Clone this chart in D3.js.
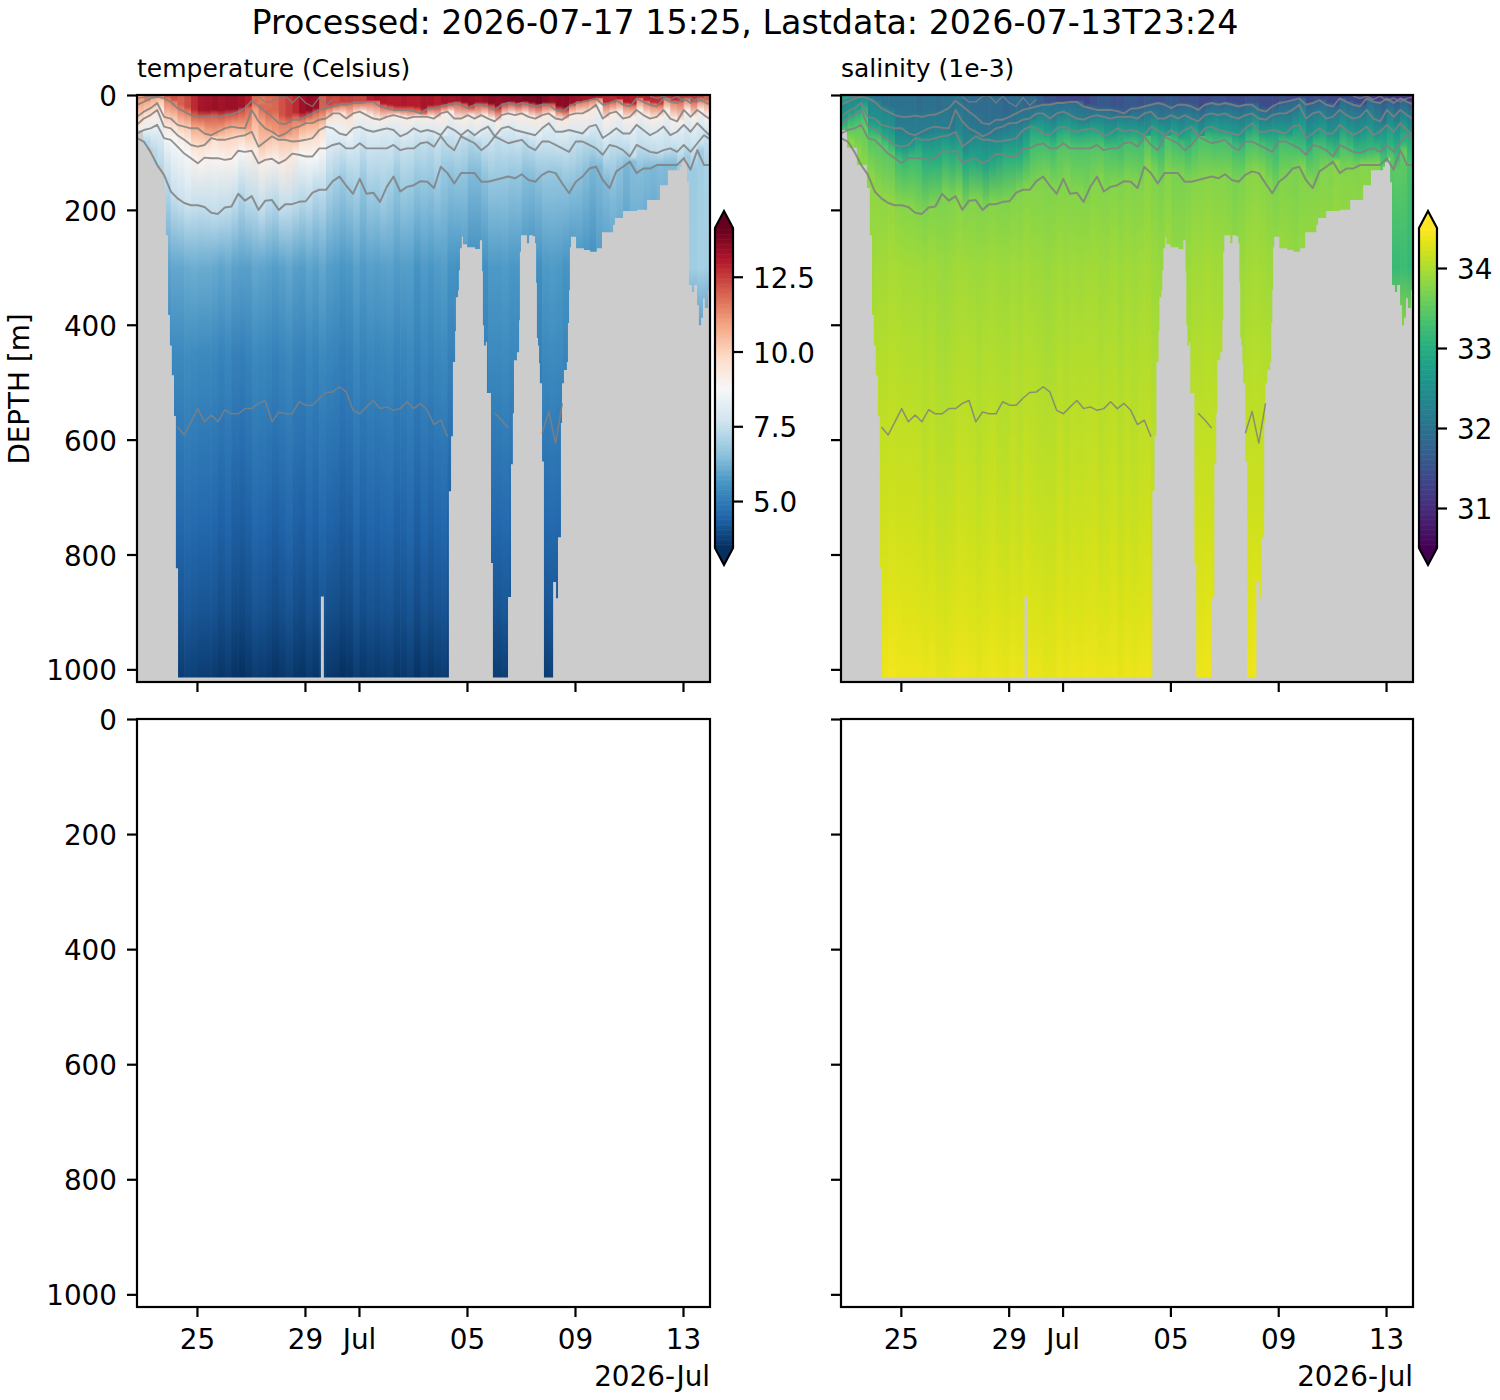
<!DOCTYPE html>
<html>
<head>
<meta charset="utf-8">
<script src="https://cdn.jsdelivr.net/npm/d3@7"></script>
<style>
  html, body { margin: 0; padding: 0; background: #fff; }
  text { font-family: "DejaVu Sans", sans-serif; fill: #000; }
</style>
</head>
<body>
<svg id="chart" width="1500" height="1400"></svg>
<script>
const titleText = 'Processed: 2026-07-17 15:25, Lastdata: 2026-07-13T23:24';
const variableNames = ['temperature (Celsius)', 'salinity (1e-3)'];
const depthTicks = [0, 200, 400, 600, 800, 1000];
const dateTicks = ['2026-06-25', '2026-06-29', '2026-07-01', '2026-07-05', '2026-07-09', '2026-07-13'];
const dateTickLabels = ['25', '29', 'Jul', '05', '09', '13'];
const tempBarTicks = [5, 7.5, 10, 12.5];
const salBarTicks = [31, 32, 33, 34];

// contour depths [m], one value per 6 h profile
const line1 = [6,4,2,1,null,null,null,null,null,null,null,null,null,null,null,null,null,null,3,12,12,2,1,14,2,14,20,4,18,8,
  null,null,null,null,null,null,null,null,null,null,null,null,null,null,null,null,null,null,null,null,null,null,null,null,null,null,null,null,null,null,
  null,null,null,null,null,null,null,null,null,null,null,null,null,null,null,null,2,6,2,8,2,10,5,12,6,3];
const line2 = [17,12,6,3,6,12,23,29,35,38,38,36,38,35,34,29,23,10,19,29,38,49,51,43,43,38,32,26,23,20,
  17,17,14,14,12,12,20,23,26,26,26,28,32,24,23,20,17,14,17,23,17,17,20,26,17,14,17,14,17,20,
  17,17,26,29,20,14,12,9,6,17,14,9,17,20,6,12,17,20,6,12,14,6,14,6,12,17];
const line3 = [38,29,23,14,38,41,52,55,58,58,67,70,64,58,55,57,58,26,46,58,64,72,67,58,55,49,49,43,41,32,
  32,41,32,29,35,41,43,38,35,38,41,38,38,38,41,32,29,41,41,35,41,35,41,46,35,32,35,32,38,41,
  35,32,41,43,35,32,32,26,17,41,32,29,41,38,26,35,41,38,26,41,46,26,38,26,35,43];
const line4 = [52,41,35,26,55,58,70,78,87,90,87,75,78,78,75,72,70,64,90,81,72,78,78,81,80,78,75,61,55,58,
  67,70,58,55,61,64,61,58,61,72,67,58,64,61,64,70,55,61,70,61,70,61,55,72,58,55,61,64,67,70,
  58,49,64,64,61,64,67,55,52,75,67,58,67,67,52,61,70,64,55,70,64,52,64,49,61,72];
const line5 = [67,61,58,52,75,78,90,102,110,119,109,110,110,113,111,97,99,97,119,113,111,119,113,102,104,107,107,93,93,87,
  84,93,93,84,93,93,93,93,87,96,93,93,84,82,90,72,87,96,72,78,84,96,87,72,78,84,81,78,90,96,
  81,81,87,93,99,81,81,87,93,104,87,90,96,107,87,93,99,101,96,93,99,87,99,84,70,78];
const line6 = [75,81,99,122,139,168,180,188,192,192,195,205,207,196,194,172,184,176,200,184,183,200,190,190,186,185,170,165,165,150,
  142,158,172,146,172,170,186,160,142,168,160,157,150,151,162,125,136,154,136,136,136,151,151,148,145,142,145,138,148,151,
  139,133,136,154,171,151,142,128,125,148,162,133,125,116,136,128,128,122,122,122,122,110,130,96,122,122];
const line7 = [null,null,null,null,null,null,578,592,569,546,569,557,569,548,555,555,546,546,537,532,569,552,555,555,534,540,540,528,518,517,
  508,517,549,555,543,532,546,543,549,546,534,546,537,549,574,566,595,null,null,null,null,null,null,554,566,580,null,null,null,null,
  589,551,606,537,null,null,null,null,null,null,null,null,null,null,null,null,null,null,null,null,null,null,null,null,null,null];

// sea floor / deepest sample: days from 1 July and depth [m]
const bottomDays = [-8.22,-8.00,-7.63,-7.26,-7.15,-7.07,-7.00,-6.93,-6.85,-6.78,-6.70,-1.41,-1.30,3.33,3.41,3.48,3.56,3.59,3.67,3.70,3.74,3.81,3.85,4.00,4.30,4.48,4.56,4.59,4.63,4.70,4.74,4.89,4.96,5.52,5.63,5.70,5.74,5.85,5.93,5.96,6.00,6.22,6.30,6.44,6.52,6.56,6.59,6.63,6.67,6.70,6.78,6.85,7.19,7.30,7.37,7.48,7.52,7.59,7.70,7.74,7.78,7.81,7.85,8.00,8.04,8.33,8.56,8.81,9.00,9.41,9.48,9.78,10.30,10.67,11.15,11.44,11.89,11.96,12.07,12.15,12.22,12.33,12.41,12.52,12.59,12.67,12.74,12.81,12.93,13.04];
const bottomDepths = [61,92,122,162,244,383,436,488,559,824,1014,873,1014,690,594,465,411,352,340,305,267,247,260,265,268,253,307,401,436,430,519,815,1014,874,643,554,462,448,392,273,244,258,244,246,258,327,423,436,467,502,638,1014,848,876,770,571,502,479,465,397,340,265,247,247,267,270,273,267,239,226,214,202,200,183,157,131,125,117,110,152,331,343,331,366,401,388,354,371,340,340];

// temperature at the surface, one value per profile
const tempSurface = [11,11.5,11.5,12,12,12.2,12,12.3,12.8,13.2,
  13.3,13.4,13.3,13.4,13.4,13.3,13,11.8,11.6,11.8,
  11.9,12.2,12.5,12.8,13.3,13.5,13.4,12,12.4,12.3,
  12.5,12.5,12.4,12.4,13,13.2,13.1,13,13,13.1,
  13,13,13.2,13.2,13,13.3,13.2,13.3,13.5,13.4,
  13.3,13.4,13.6,13.5,13.6,13.7,13.7,13.8,13.8,13.9,
  13.7,13.5,13.6,13.6,13.4,13.3,13.2,13.2,13,12.9,
  12.8,13,13.1,13,12.8,12.9,12.8,12.7,12.6,12.8,
  12.6,12.5,12.6,12.4,12,11.6];
// temperature along the contours, one value per day
const tempLine2 = [10.8,11.6,12,12.1,11.9,11.5,11.8,11.6,11.7,11.8,11.8,12,12,12.2,12.2,12,11.5,11.6,11.6,11.5,11.6,11.2];
const tempLine3 = [10,10.2,10.8,10.8,11,11.1,10.8,9.6,9.2,9.2,9.2,9.2,9.2,9.2,9.3,9.4,9.3,9.2,9.2,9.2,9.2,9.1];
const tempLine4 = [9.3,9.4,9.7,9.9,10.2,10.3,9.7,8.4,8.1,8,8,8,8,8,8.1,8.1,8,8,8,8,8,7.9];
const tempLine5 = [8.3,8.6,8.9,9,9.1,9.2,8.8,7.9,7.6,7.5,7.4,7.4,7.4,7.4,7.5,7.5,7.4,7.4,7.4,7.4,7.5,7.5];
const tempLine6 = [7.3,7.5,7.4,7.4,7.4,7.4,7.3,7,6.8,6.8,6.7,6.7,6.6,6.6,6.6,6.6,6.5,6.5,6.4,6.4,6.8,7];
const temp300 = [5.9,5.9,6,6,5.9,5.9,5.9,5.8,5.8,5.8,5.7,5.7,5.6,5.6,5.6,5.6,5.6,5.8,5.8,5.8,6.9,6.9];
// fixed depths below 300 m
const deepDepths = [450, 600, 750, 900, 1022];
const tempDeep = [5.25, 4.85, 4.45, 4.05, 3.55];
const salDeep = [34.02, 34.1, 34.18, 34.28, 34.38];

const salSurface = [32.7,32.6,32.4,32.2,32.1,32,32,32,32,32,
  32,31.9,32,32,31.9,32,32,32.1,31.9,31.9,
  31.9,31.9,31.9,31.9,31.8,31.9,31.9,31.8,31.9,31.7,
  31.5,31.5,31.4,31.4,31.3,31.3,31.3,31.5,31.6,31.6,
  31.5,31.5,31.6,31.6,31.5,31.6,31.5,31.5,31.6,31.6,
  31.5,31.5,31.5,31.4,31.4,31.5,31.5,31.4,31.4,31.4,
  31.5,31.5,31.4,31.4,31.4,31.5,31.4,31.4,31.5,31.4,
  31.5,31.4,31.4,31.4,31.3,31.4,31.4,31.4,31.3,31.2,
  31.3,31.1,31.2,31.1,31,31.2];
const salLine2 = [32.4,32.3,32.1,32.1,32,32,32,32,31.9,31.9,31.8,31.8,31.8,31.8,31.8,31.9,31.8,31.8,31.8,31.8,31.7,31.6];
const salLine3 = [32.7,32.5,32.2,32.2,32.1,32.1,32.1,32.2,32.2,32.2,32.2,32.1,32.2,32.2,32.2,32.2,32.1,32.2,32.2,32.2,32.1,32.1];
const salLine4 = [33.1,32.9,32.6,32.5,32.4,32.4,32.5,32.8,32.8,32.8,32.7,32.7,32.7,32.7,32.7,32.7,32.7,32.7,32.6,32.6,32.6,32.5];
const salLine5 = [33.5,33.4,33.2,33,32.9,32.8,33,33.3,33.4,33.4,33.3,33.3,33.3,33.3,33.3,33.3,33.3,33.3,33.3,33.2,33.1,32.9];
const salLine6 = [33.8,33.8,33.75,33.75,33.75,33.75,33.75,33.75,33.75,33.75,33.75,33.75,33.75,33.75,33.75,33.75,33.75,33.75,33.75,33.75,33.5,33.3];
const sal300 = [33.92,33.92,33.92,33.92,33.92,33.92,33.92,33.92,33.92,33.92,33.92,33.92,33.92,33.92,33.92,33.92,33.92,33.92,33.92,33.92,33.2,33.15];

// how much lighter or darker each profile looks below the thermocline
const profileStreak = [0,0,0,0,0,.1,.1,.2,.15,.1,
  .1,.05,-.05,.05,-.1,-.15,-.05,.1,.05,0,
  -.1,0,.1,-.05,-.1,.05,-.05,.1,0,-.05,
  -.15,-.1,.1,-.05,.05,0,.05,.1,-.05,0,
  .1,-.1,.05,-.05,.05,.1,-.1,-.15,.05,-.2,
  -.2,-.1,.1,.1,.15,.05,.05,-.1,-.2,-.1,
  .1,.15,.1,0,-.1,0,-.1,-.2,-.1,-.05,
  0,0,-.1,.1,.05,0,-.05,.05,0,0,
  0,0,0,.1,.05,0];

const svg = d3.select('#chart');
const defs = svg.append('defs');

const startTime = new Date(Date.UTC(2026, 5, 22, 18, 43));
const endTime = new Date(Date.UTC(2026, 6, 14, 0, 0));
const july1 = Date.UTC(2026, 6, 1);
const DAY_MS = 86400000;
const profileTimes = d3.range(86).map(i => d3.utcHour.offset(startTime, i * 6));
const tickDates = dateTicks.map(d => new Date(d + 'T00:00:00Z'));
const bottomTimes = bottomDays.map(d => new Date(july1 + d * DAY_MS));

const colLefts = [137, 841];
const colRights = [710, 1413];
const rowTops = [95, 719];
const rowBottoms = [682, 1307];
const MAX_DEPTH = 1022;

const tempColor = d3.scaleSequential(d3.piecewise(d3.interpolateRgb, d3.schemeRdBu[11].slice().reverse()))
  .domain([3.43, 14.13]);
const salColor = d3.scaleSequential(d3.interpolateViridis).domain([30.5, 34.5]);

const contourLines = [line1, line2, line3, line4, line5, line6, line7];
const contourWidths = [1.3, 1.9, 1.9, 1.9, 1.9, 2, 1.5];

const variables = [
  { surface: tempSurface, lines: [tempLine2, tempLine3, tempLine4, tempLine5, tempLine6], d300: temp300, deep: tempDeep, color: tempColor, gain: 1 },
  { surface: salSurface, lines: [salLine2, salLine3, salLine4, salLine5, salLine6], d300: sal300, deep: salDeep, color: salColor, gain: 0.25 }
];

function profileStops(v, i) {
  const day = Math.min(Math.floor(i / 4), 21);
  const streak = profileStreak[i] * v.gain;
  // the mixed layer keeps its surface value most of the way down to the first contour
  const stops = [[0, v.surface[i]], [line2[i] * 0.7, v.surface[i]]];
  [line2, line3, line4, line5, line6].forEach((line, k) => {
    const extra = k >= 3 ? streak : 0;
    stops.push([line[i], v.lines[k][day] + extra]);
  });
  stops.push([300, v.d300[day] + streak]);
  deepDepths.forEach((d, k) => stops.push([d, v.deep[k] + streak]));
  return stops;
}

function styleAxis(g) {
  g.select('.domain').remove();
  g.selectAll('.tick line').attr('stroke', '#000').attr('stroke-width', 2.2);
  g.selectAll('.tick text').attr('font-size', 27.8).attr('font-family', '"DejaVu Sans", sans-serif');
}

function drawPanel(col, row) {
  const x = d3.scaleUtc().domain([startTime, endTime]).range([colLefts[col], colRights[col]]);
  const y = d3.scaleLinear().domain([0, MAX_DEPTH]).range([rowTops[row], rowBottoms[row]]);
  const g = svg.append('g');
  const w = colRights[col] - colLefts[col];
  const h = rowBottoms[row] - rowTops[row];

  if (row === 0) {
    const clipId = `clip-${col}`;
    defs.append('clipPath').attr('id', clipId).append('rect')
      .attr('x', colLefts[col]).attr('y', rowTops[row]).attr('width', w).attr('height', h);
    const plot = g.append('g').attr('clip-path', `url(#${clipId})`);
    plot.append('rect').attr('x', colLefts[col]).attr('y', rowTops[row])
      .attr('width', w).attr('height', h).attr('fill', '#cccccc');

    const v = variables[col];
    profileTimes.slice(0, 85).forEach((t, i) => {
      const gradId = `grad-${col}-${i}`;
      const grad = defs.append('linearGradient').attr('id', gradId)
        .attr('gradientUnits', 'userSpaceOnUse')
        .attr('x1', 0).attr('x2', 0).attr('y1', y(0)).attr('y2', y(MAX_DEPTH));
      let last = 0;
      profileStops(v, i).forEach(([depth, value]) => {
        last = Math.max(last, depth);
        grad.append('stop').attr('offset', last / MAX_DEPTH).attr('stop-color', v.color(value));
      });
      const left = x(t);
      const right = i < 84 ? x(profileTimes[i + 1]) : x(endTime);
      plot.append('rect').attr('x', left).attr('y', y(0))
        .attr('width', right - left + 0.6).attr('height', y(MAX_DEPTH) - y(0))
        .attr('fill', `url(#${gradId})`);
    });

    const floorArea = d3.area()
      .x((d, i) => x(bottomTimes[i]))
      .y0(d => y(d))
      .y1(y(MAX_DEPTH))
      .curve(d3.curveStepAfter);
    plot.append('path').datum(bottomDepths).attr('d', floorArea).attr('fill', '#cccccc');

    const contour = d3.line()
      .defined(d => d !== null)
      .x((d, i) => x(profileTimes[i]))
      .y(d => y(d));
    contourLines.forEach((line, k) => {
      plot.append('path').datum(line).attr('d', contour)
        .attr('fill', 'none').attr('stroke', '#808080')
        .attr('stroke-opacity', 0.85).attr('stroke-width', contourWidths[k])
        .attr('stroke-linejoin', 'round');
    });
  }

  const xAxis = d3.axisBottom(x).tickValues(tickDates).tickSize(10).tickPadding(12)
    .tickFormat((d, i) => row === 1 ? dateTickLabels[i] : '');
  g.append('g').attr('transform', `translate(0,${rowBottoms[row]})`).call(xAxis).call(styleAxis);

  const yAxis = d3.axisLeft(y).tickValues(depthTicks).tickSize(10).tickPadding(10)
    .tickFormat(d => col === 0 ? d : '');
  g.append('g').attr('transform', `translate(${colLefts[col]},0)`).call(yAxis).call(styleAxis)
    .selectAll('.tick text').attr('dy', '0.38em');

  g.append('rect').attr('x', colLefts[col]).attr('y', rowTops[row]).attr('width', w).attr('height', h)
    .attr('fill', 'none').attr('stroke', '#000').attr('stroke-width', 2.2);
}

function drawColorbar(left, color, ticks, fmt) {
  const barW = 18, top = 228, bottom = 548, tipTop = 211, tipBottom = 565;
  const [lo, hi] = color.domain();
  const scale = d3.scaleLinear().domain([lo, hi]).range([bottom, top]);
  const g = svg.append('g');
  const steps = d3.range(0, 256);
  g.selectAll('rect').data(steps).join('rect')
    .attr('x', left).attr('width', barW)
    .attr('y', d => scale(lo + (hi - lo) * (d + 1) / 256))
    .attr('height', (bottom - top) / 256 + 0.6)
    .attr('fill', d => color(lo + (hi - lo) * (d + 0.5) / 256));
  g.append('path').attr('d', `M${left},${top}L${left + barW / 2},${tipTop}L${left + barW},${top}Z`).attr('fill', color(hi));
  g.append('path').attr('d', `M${left},${bottom}L${left + barW / 2},${tipBottom}L${left + barW},${bottom}Z`).attr('fill', color(lo));
  g.append('path')
    .attr('d', `M${left},${top}L${left + barW / 2},${tipTop}L${left + barW},${top}L${left + barW},${bottom}L${left + barW / 2},${tipBottom}L${left},${bottom}Z`)
    .attr('fill', 'none').attr('stroke', '#000').attr('stroke-width', 2.2);
  const axis = d3.axisRight(scale).tickValues(ticks).tickSize(10).tickPadding(10).tickFormat(fmt);
  svg.append('g').attr('transform', `translate(${left + barW},0)`).call(axis).call(styleAxis)
    .selectAll('.tick text').attr('dy', '0.38em');
}

[0, 1].forEach(row => [0, 1].forEach(col => drawPanel(col, row)));
drawColorbar(715, tempColor, tempBarTicks, d3.format('.1f'));
drawColorbar(1419, salColor, salBarTicks, d3.format('d'));

svg.append('text').attr('x', 745).attr('y', 34).attr('text-anchor', 'middle')
  .attr('font-size', 33.3).text(titleText);
variableNames.forEach((name, i) => {
  svg.append('text').attr('x', colLefts[i]).attr('y', 77).attr('font-size', 25).text(name);
});
svg.append('text').attr('transform', 'translate(29,389) rotate(-90)').attr('text-anchor', 'middle')
  .attr('font-size', 27.8).text('DEPTH [m]');
colRights.forEach(r => {
  svg.append('text').attr('x', r).attr('y', 1386).attr('text-anchor', 'end')
    .attr('font-size', 27.8).text('2026-Jul');
});
</script>
</body>
</html>
